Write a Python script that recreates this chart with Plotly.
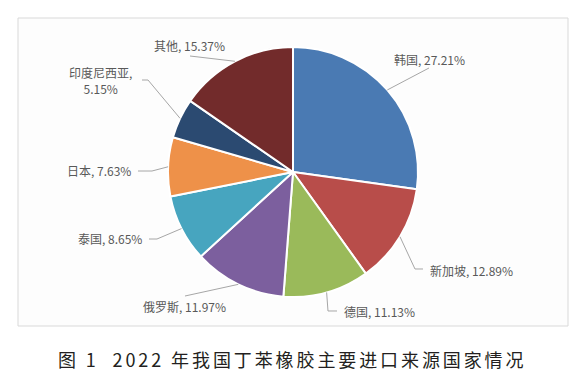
import math
import plotly.graph_objects as go

# ---- data ----
countries = ["韩国", "新加坡", "德国", "俄罗斯", "泰国", "日本", "印度尼西亚", "其他"]
shares = [27.21, 12.89, 11.13, 11.97, 8.65, 7.63, 5.15, 15.37]
colors = ["#4A7AB3", "#B84D4A", "#9ABA5A", "#7C5F9E", "#47A5BF", "#EE9149", "#2B4A71", "#722B2B"]
caption = "图 1  2022 年我国丁苯橡胶主要进口来源国家情况"

W, H = 587, 380
CX, CY, R = 293, 172, 125  # pie centre / radius in px

def px(x):
    return x / W

def py(y):
    return 1 - y / H

# label layout (px): text x, text y, xanchor, leader waypoints (after the slice edge point)
label_layout = [
    (429, 59, "center", [(429, 68)]),
    (428, 270, "left", [(415, 269), (423, 269)]),
    (342, 311, "left", [(328, 311), (337, 311)]),
    (184, 306, "center", [(185, 296)]),
    (144, 239, "right", [(157, 239), (149, 239)]),
    (133, 171, "right", [(152, 171), (138, 171)]),
    (100, 80, "center", [(148, 80), (142, 80)]),
    (190, 45, "center", [(190, 56)]),
]

fig = go.Figure()
fig.add_trace(go.Pie(
    labels=countries,
    values=shares,
    sort=False,
    direction="clockwise",
    rotation=0,
    marker=dict(colors=colors, line=dict(color="white", width=2)),
    textinfo="none",
    hoverinfo="label+percent",
    showlegend=False,
    domain=dict(x=[px(CX - R), px(CX + R)], y=[py(CY + R), py(CY - R)]),
))

shapes = [dict(type="rect", xref="paper", yref="paper",
               x0=px(18), x1=px(568), y0=py(326), y1=py(18),
               line=dict(color="#D9D9D9", width=1), fillcolor="#FDFDFD", layer="below")]
annotations = []
total = sum(shares)
cum = 0.0
for name, val, (tx, ty, anchor, pts) in zip(countries, shares, label_layout):
    mid = (cum + val / 2) / total * 2 * math.pi
    cum += val
    ex = CX + R * math.sin(mid)
    ey = CY - R * math.cos(mid)
    path_pts = [(ex, ey)] + pts
    d = "M " + " L ".join(f"{px(x):.5f},{py(y):.5f}" for x, y in path_pts)
    shapes.append(dict(type="path", xref="paper", yref="paper", path=d,
                       line=dict(color="#A6A6A6", width=1)))
    if name == "印度尼西亚":
        txt = f"{name},<br>{val:.2f}%"
    else:
        txt = f"{name}, {val:.2f}%"
    annotations.append(dict(x=px(tx), y=py(ty), xref="paper", yref="paper",
                            text=txt, showarrow=False, xanchor=anchor, yanchor="middle",
                            font=dict(family="Noto Sans CJK SC", size=12, color="#595959")))

annotations.append(dict(x=px(292), y=py(359), xref="paper", yref="paper",
                        text=f'<span style="letter-spacing:2.9px">{caption}</span>',
                        showarrow=False, xanchor="center", yanchor="middle",
                        font=dict(family="Noto Sans CJK SC", size=18, color="#231F20")))

fig.update_layout(
    width=W, height=H,
    margin=dict(l=0, r=0, t=0, b=0),
    paper_bgcolor="white",
    plot_bgcolor="white",
    shapes=shapes,
    annotations=annotations,
)
fig.write_html("out.html",
               config={"displayModeBar": False},
               post_script="document.body.style.margin='0';document.body.style.padding='0';")
